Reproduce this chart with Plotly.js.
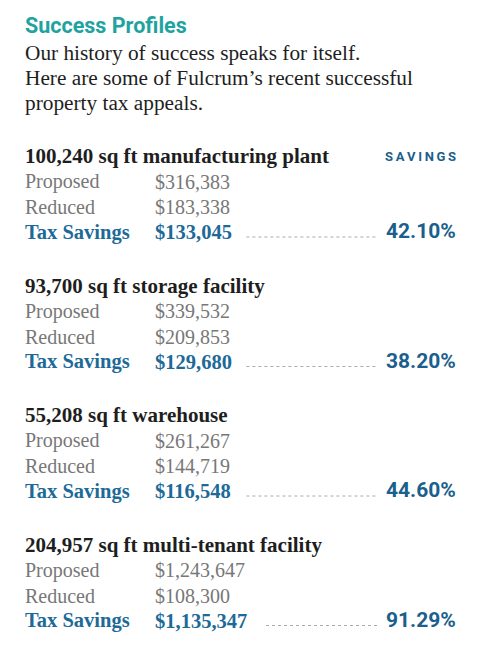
<!DOCTYPE html>
<html><head><meta charset="utf-8">
<script src="https://cdn.plot.ly/plotly-3.0.1.min.js"></script>
<style>html,body{margin:0;padding:0;background:#fff;}#chart{width:488px;height:653px;}</style>
</head><body><div id="chart"></div>
<script>
const title = "Success Profiles";
const introLines = ["Our history of success speaks for itself.", "Here are some of Fulcrum’s recent successful", "property tax appeals."];
const facilities = ["100,240 sq ft manufacturing plant", "93,700 sq ft storage facility", "55,208 sq ft warehouse", "204,957 sq ft multi-tenant facility"];
const proposed = ["$316,383", "$339,532", "$261,267", "$1,243,647"];
const reduced = ["$183,338", "$209,853", "$144,719", "$108,300"];
const taxSavings = ["$133,045", "$129,680", "$116,548", "$1,135,347"];
const savingsPct = ["42.10%", "38.20%", "44.60%", "91.29%"];
const rowLabels = ["Proposed", "Reduced", "Tax Savings"];
const columnLabel = "SAVINGS";

const SERIF = "Liberation Serif, Times New Roman, serif";
const SANS = "Roboto, Open Sans, sans-serif";
const TEAL = "#1fa3a0", BLUE = "#1d6a98", PCT = "#1b5f8c", GREY = "#777777", DARK = "#1e1e1e";
const LEFT = 24, VALX = 154, RIGHT = 458;

const ann = [];
function txt(x, y, text, size, color, family, anchor) {
  ann.push({x: x, y: y, xref: 'x', yref: 'y', text: text, showarrow: false,
    xanchor: anchor || 'left', yanchor: 'middle',
    font: {size: size, color: color, family: family}});
}
txt(LEFT - 1, 25, "<b>" + title + "</b>", 21.5, TEAL, SANS);
introLines.forEach((l, i) => txt(LEFT - 1, 53 + i * 25, l, 21.3, DARK, SERIF));
txt(RIGHT, 156, "<b>" + columnLabel.split("").join("\u2009") + "</b>", 13, PCT, SANS, 'right');

const traces = [];
facilities.forEach((f, i) => {
  const y0 = 156 + i * 129.5;
  txt(LEFT - 1, y0, "<b>" + f + "</b>", 21, DARK, SERIF);
  txt(LEFT - 1, y0 + 25.5, rowLabels[0], 20, GREY, SERIF);
  txt(VALX - 1, y0 + 25.5, proposed[i], 20, GREY, SERIF);
  txt(LEFT - 1, y0 + 51, rowLabels[1], 20, GREY, SERIF);
  txt(VALX - 1, y0 + 51, reduced[i], 20, GREY, SERIF);
  txt(LEFT - 1, y0 + 76, "<b>" + rowLabels[2] + "</b>", 20.5, BLUE, SERIF);
  txt(VALX - 1, y0 + 76, "<b>" + taxSavings[i] + "</b>", 20.5, BLUE, SERIF);
  txt(RIGHT, y0 + 75, "<b>" + savingsPct[i] + "</b>", 21, PCT, SANS, 'right');
  const dotStart = VALX + taxSavings[i].length * 9.8 + 14;
  traces.push({x: [dotStart, 378], y: [y0 + 81, y0 + 81], mode: 'lines', hoverinfo: 'skip',
    line: {color: '#aaaaaa', width: 1, dash: 'dot'}, showlegend: false});
});

const layout = {
  width: 488, height: 653, margin: {l: 0, r: 0, t: 0, b: 0},
  paper_bgcolor: '#fff', plot_bgcolor: '#fff', showlegend: false,
  xaxis: {range: [0, 488], visible: false, fixedrange: true},
  yaxis: {range: [653, 0], visible: false, fixedrange: true},
  annotations: ann
};
Plotly.newPlot('chart', traces, layout, {staticPlot: true, displayModeBar: false});
</script></body></html>
